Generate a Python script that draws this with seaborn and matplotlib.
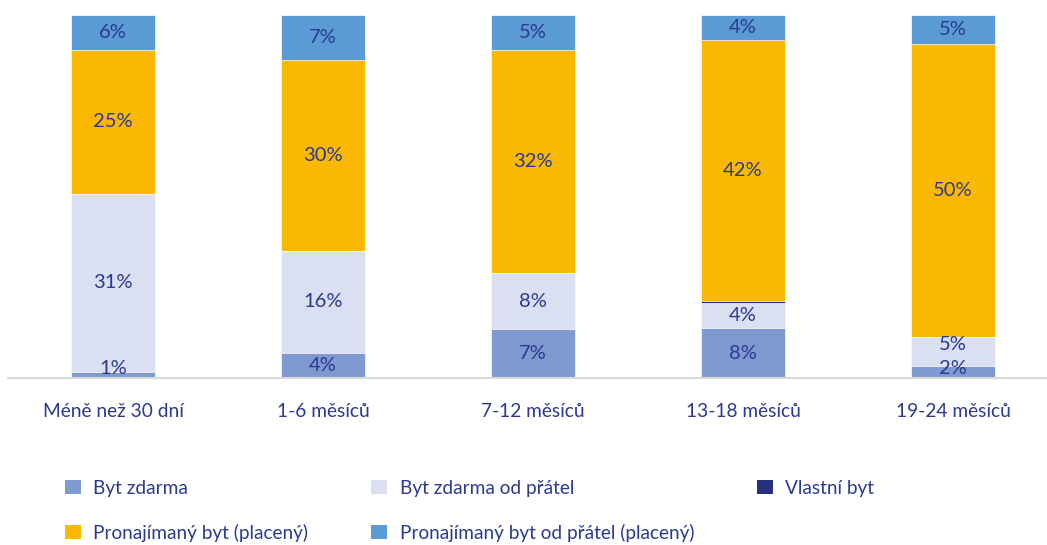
import numpy as np
import pandas as pd
import matplotlib
matplotlib.use("Agg")
import matplotlib.pyplot as plt
from matplotlib.patches import Patch
import seaborn as sns

categories = ["Méně než 30 dní", "1-6 měsíců", "7-12 měsíců", "13-18 měsíců", "19-24 měsíců"]
series_names = ["Byt zdarma", "Byt zdarma od přátel", "Vlastní byt",
                "Pronajímaný byt (placený)", "Pronajímaný byt od přátel (placený)"]
byt_zdarma = [1, 4, 7, 8, 2]
byt_zdarma_pratele = [31, 16, 8, 4, 5]
vlastni_byt = [0, 0, 0, 0.4, 0]
pronajimany = [25, 30, 32, 42, 50]
pronajimany_pratele = [6, 7, 5, 4, 5]
colors = ["#7F99D1", "#DAE0F1", "#26307F", "#FAB800", "#5B9BD5"]
text_color = "#2B3990"

sns.set_theme(style="white")
plt.rcParams['font.family'] = ['Lato', 'DejaVu Sans']

series = [byt_zdarma, byt_zdarma_pratele, vlastni_byt, pronajimany, pronajimany_pratele]
raw = np.array(series, dtype=float)  # shape (5 series, 5 cats)
totals = raw.sum(axis=0)
norm = raw / totals * 100
cum = np.cumsum(norm, axis=0)

fig = plt.figure(figsize=(10.47, 5.45), dpi=100)
ax = fig.add_axes([8 / 1047, 0.3064, 1050 / 1047, 0.6661])

for i in range(len(series) - 1, -1, -1):
    df = pd.DataFrame({"cat": categories, "val": cum[i]})
    sns.barplot(data=df, x="cat", y="val", color=colors[i], width=0.4,
                edgecolor="white", linewidth=0.5, saturation=1, ax=ax)

ax.set_ylim(0, 100)
ax.set_xlim(-0.5, 4.5)
ax.set_xlabel("")
ax.set_ylabel("")
ax.set_yticks([])
for s in ["top", "right", "left"]:
    ax.spines[s].set_visible(False)
ax.spines["bottom"].set_color("#D9D9D9")
ax.spines["bottom"].set_linewidth(1.5)
ax.tick_params(axis="x", length=0, pad=18, labelsize=13.8, labelcolor=text_color)

# data labels (skip Vlastní byt), nudged to keep them apart like the original
px_per_unit = 363 / 100.0
min_base = 10 / px_per_unit
min_gap = 24 / px_per_unit
for j in range(len(categories)):
    last = None
    for i in range(len(series)):
        if i == 2 or raw[i, j] <= 0:
            continue
        bottom = cum[i, j] - norm[i, j]
        yc = bottom + norm[i, j] / 2
        yc = max(yc, min_base)
        if last is not None:
            yc = max(yc, last + min_gap)
        last = yc
        ax.text(j, yc, f"{raw[i, j]:.0f}%", ha="center", va="center",
                fontsize=14.5, color=text_color)

order = [0, 3, 1, 4, 2]
handles = [Patch(facecolor=colors[k], edgecolor="none") for k in order]
labels = [series_names[k] for k in order]
fig.legend(handles, labels, loc="upper left", bbox_to_anchor=(0.0545, 0.134),
           ncol=3, frameon=False, fontsize=13.7, labelcolor=text_color,
           handlelength=0.85, handleheight=0.75, handletextpad=0.65,
           columnspacing=3.3, labelspacing=1.42, borderaxespad=0)

fig.savefig("out.png", dpi=100)
